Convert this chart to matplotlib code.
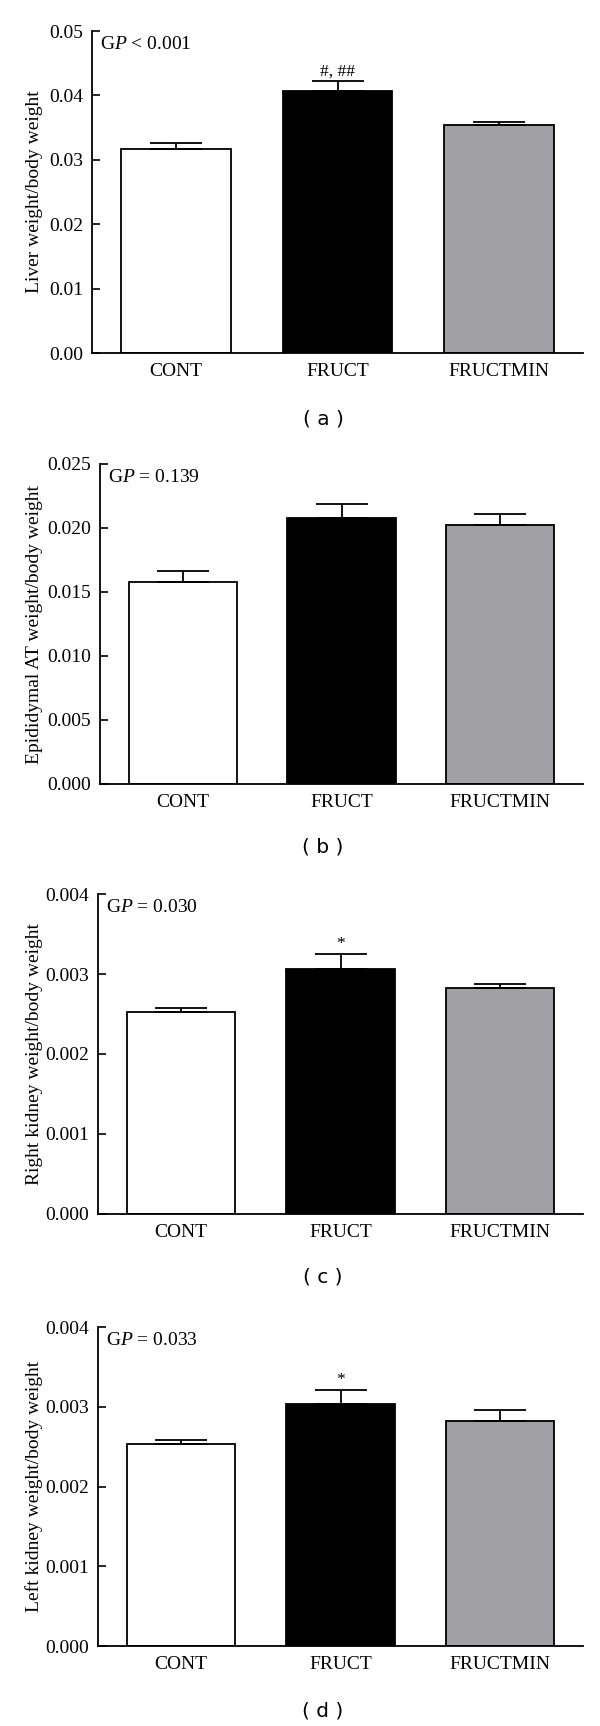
import matplotlib
matplotlib.use("Agg")
import matplotlib.pyplot as plt
from matplotlib.ticker import FixedLocator, FormatStrFormatter

plt.rcParams['font.family'] = ['Liberation Serif', 'DejaVu Serif']
plt.rcParams['mathtext.fontset'] = 'custom'
plt.rcParams['mathtext.rm'] = 'Liberation Serif'
plt.rcParams['mathtext.it'] = 'Liberation Serif:italic'

groups = ["CONT", "FRUCT", "FRUCTMIN"]
colors = ["#ffffff", "#000000", "#a1a1a5"]

liver_means = [0.0317, 0.0407, 0.0354]
liver_errs = [0.0009, 0.0015, 0.0005]
epi_means = [0.01576, 0.02076, 0.02026]
epi_errs = [0.00087, 0.00110, 0.00083]
rkid_means = [0.002531, 0.003059, 0.002826]
rkid_errs = [0.000050, 0.000185, 0.000055]
lkid_means = [0.002530, 0.003031, 0.002827]
lkid_errs = [0.000055, 0.000176, 0.000130]

ylabels = ["Liver weight/body weight", "Epididymal AT weight/body weight",
           "Right kidney weight/body weight", "Left kidney weight/body weight"]
gp_texts = [r"G$\mathit{P}$ < 0.001", r"G$\mathit{P}$ = 0.139",
            r"G$\mathit{P}$ = 0.030", r"G$\mathit{P}$ = 0.033"]
panel_tags = ["( a )", "( b )", "( c )", "( d )"]
yticks_list = [[0.00, 0.01, 0.02, 0.03, 0.04, 0.05],
               [0.000, 0.005, 0.010, 0.015, 0.020, 0.025],
               [0.000, 0.001, 0.002, 0.003, 0.004],
               [0.000, 0.001, 0.002, 0.003, 0.004]]
yfmts = ["%.2f", "%.3f", "%.3f", "%.3f"]
annots = [[None, "#, ##", None], [None, None, None],
          [None, "*", None], [None, "*", None]]

means_list = [liver_means, epi_means, rkid_means, lkid_means]
errs_list = [liver_errs, epi_errs, rkid_errs, lkid_errs]

W, H = 600, 1726
fig = plt.figure(figsize=(W / 100, H / 100), dpi=100)

# pixel boxes: left, right, top, bottom
boxes = [(92, 583, 31, 353), (100, 583, 464, 784),
         (98, 583, 894, 1214), (98, 583, 1327, 1646)]
tag_y = [419, 847, 1277, 1711]
ylab_right = 43

for i in range(4):
    l, r, t, b = boxes[i]
    ax = fig.add_axes([l / W, 1 - b / H, (r - l) / W, (b - t) / H])
    x = range(3)
    ax.bar(x, means_list[i], width=0.68, color=colors, edgecolor='black',
           linewidth=1.3, zorder=2)
    ax.errorbar(x, means_list[i],
                yerr=[[0, 0, 0], errs_list[i]], fmt='none', ecolor='black',
                elinewidth=1.3, capsize=19, capthick=1.3, zorder=3)
    yt = yticks_list[i]
    ax.set_ylim(yt[0], yt[-1])
    ax.set_xlim(-0.52, 2.52)
    ax.yaxis.set_major_locator(FixedLocator(yt))
    ax.yaxis.set_major_formatter(FormatStrFormatter(yfmts[i]))
    ax.set_xticks(list(x))
    ax.set_xticklabels(groups)
    ax.tick_params(axis='x', length=0, pad=7, labelsize=14)
    ax.tick_params(axis='y', direction='in', length=6, width=1.2, pad=6.5,
                   labelsize=14)
    for s in ['top', 'right']:
        ax.spines[s].set_visible(False)
    for s in ['left', 'bottom']:
        ax.spines[s].set_linewidth(1.3)
    ax.set_ylabel(ylabels[i], fontsize=14)
    ax.yaxis.set_label_coords((ylab_right - l) / (r - l), 0.5)
    ax.text(0.016, 0.985, gp_texts[i], transform=ax.transAxes,
            ha='left', va='top', fontsize=14)
    for j in range(3):
        if annots[i][j]:
            top = means_list[i][j] + errs_list[i][j]
            ax.annotate(annots[i][j], (j, top), xytext=(0, 1.5),
                        textcoords='offset points', ha='center', va='bottom',
                        fontsize=12.5)
    fig.text(323 / W, 1 - tag_y[i] / H, panel_tags[i], ha='center',
             va='center', fontsize=14.5, family=['DejaVu Sans'])

fig.savefig("out.png", dpi=100, facecolor='white')
